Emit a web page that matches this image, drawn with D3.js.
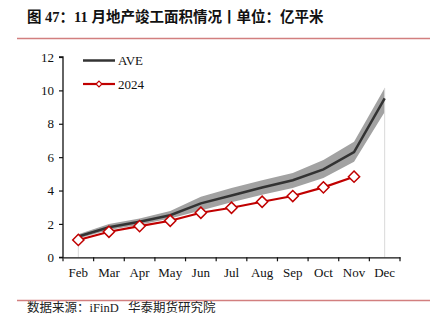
<!DOCTYPE html>
<html><head><meta charset="utf-8">
<script src="https://cdn.jsdelivr.net/npm/d3@7"></script>
<style>
body{margin:0;background:#fff;}
svg{display:block;}
</style></head>
<body>
<svg id="c" width="439" height="326"></svg>
<script>
const months = ["Feb","Mar","Apr","May","Jun","Jul","Aug","Sep","Oct","Nov","Dec"];
const aveValues = [1.25, 1.8, 2.13, 2.52, 3.23, 3.7, 4.18, 4.62, 5.27, 6.3, 9.52];
const bandLow  = [1.12, 1.63, 1.95, 2.33, 2.8, 3.3, 3.75, 4.15, 4.75, 5.72, 8.7];
const bandHigh = [1.38, 2.0, 2.33, 2.78, 3.63, 4.15, 4.62, 5.05, 5.83, 6.92, 10.15];
const y2024 = [1.04, 1.53, 1.87, 2.19, 2.67, 2.97, 3.33, 3.67, 4.19, 4.83];
const yTicks = [0, 2, 4, 6, 8, 10, 12];
const titleText = "图 47：11 月地产竣工面积情况丨单位：亿平米";
const sourceText = "数据来源：iFinD   华泰期货研究院";

const svg = d3.select("#c");
const serif = "'Liberation Serif','Times New Roman',serif";
const cjk = "'Noto Sans CJK SC','Noto Sans',sans-serif";

// Title
svg.append("text").attr("x", 27).attr("y", 22)
  .attr("font-family", "'Liberation Serif'," + cjk).attr("font-weight", "bold")
  .attr("font-size", 14.5).attr("fill", "#111").text(titleText);
svg.append("line").attr("x1", 17).attr("x2", 430).attr("y1", 38.5).attr("y2", 38.5)
  .attr("stroke", "#d27f7f").attr("stroke-width", 1.5);
svg.append("line").attr("x1", 17).attr("x2", 430).attr("y1", 300.5).attr("y2", 300.5)
  .attr("stroke", "#d27f7f").attr("stroke-width", 1.5);
svg.append("text").attr("x", 27).attr("y", 311.5)
  .attr("font-family", "'Liberation Serif'," + cjk)
  .attr("font-size", 12.5).attr("fill", "#222").attr("xml:space", "preserve")
  .style("white-space", "pre").text(sourceText);

const x = d3.scaleBand().domain(months).range([63, 400]).padding(0);
const y = d3.scaleLinear().domain([0, 12]).range([257.3, 57]);
const cx = m => x(m) + x.bandwidth() / 2;

// band
const bandData = months.map((m, i) => ({m, lo: bandLow[i], hi: bandHigh[i]}));
svg.append("path").datum(bandData)
  .attr("d", d3.area().x(d => cx(d.m)).y0(d => y(d.lo)).y1(d => y(d.hi)))
  .attr("fill", "#a2a2a2");
// faint edges at Feb and Dec
svg.append("line").attr("x1", cx("Feb")).attr("x2", cx("Feb"))
  .attr("y1", y(0)).attr("y2", y(bandLow[0])).attr("stroke", "#d9d9d9").attr("stroke-width", 1);
svg.append("line").attr("x1", cx("Dec")).attr("x2", cx("Dec"))
  .attr("y1", y(0)).attr("y2", y(bandHigh[10])).attr("stroke", "#d9d9d9").attr("stroke-width", 1);

// AVE line
svg.append("path").datum(months.map((m, i) => ({m, v: aveValues[i]})))
  .attr("d", d3.line().x(d => cx(d.m)).y(d => y(d.v)))
  .attr("fill", "none").attr("stroke", "#333").attr("stroke-width", 2.5);

// 2024 line
const d24 = y2024.map((v, i) => ({m: months[i], v}));
svg.append("path").datum(d24)
  .attr("d", d3.line().x(d => cx(d.m)).y(d => y(d.v)))
  .attr("fill", "none").attr("stroke", "#c00000").attr("stroke-width", 2.2);
const diamond = d3.symbol().type(d3.symbolDiamond2 || d3.symbolSquare).size(80);
svg.selectAll(".mk").data(d24).join("path")
  .attr("transform", d => `translate(${cx(d.m)},${y(d.v)}) rotate(${d3.symbolDiamond2 ? 0 : 45})`)
  .attr("d", diamond).attr("fill", "#fff").attr("stroke", "#c00000").attr("stroke-width", 1.5);

// axes
const yAxis = svg.append("g").attr("transform", "translate(63,0)")
  .call(d3.axisLeft(y).tickValues(yTicks).tickSize(4).tickPadding(5));
const xAxis = svg.append("g").attr("transform", `translate(0,${y(0)})`)
  .call(d3.axisBottom(x).tickSize(0).tickPadding(10));
[yAxis, xAxis].forEach(g => {
  g.selectAll("text").attr("font-family", serif).attr("font-size", 13).attr("fill", "#111");
  g.select(".domain").attr("stroke", "#111").attr("stroke-width", 1.3);
  g.selectAll(".tick line").attr("stroke", "#111").attr("stroke-width", 1.2);
});
yAxis.select(".domain").attr("d", `M-4,${y(12)}H0V${y(0)}H-4`);
// x boundary ticks
const bounds = months.map(m => x(m)).concat([x("Dec") + x.bandwidth()]);
xAxis.selectAll(".bt").data(bounds).join("line")
  .attr("x1", d => d).attr("x2", d => d).attr("y1", 0).attr("y2", 4)
  .attr("stroke", "#111").attr("stroke-width", 1.2);

// legend
const lg = svg.append("g");
lg.append("line").attr("x1", 83).attr("x2", 115).attr("y1", 60.5).attr("y2", 60.5)
  .attr("stroke", "#333").attr("stroke-width", 2.5);
lg.append("text").attr("x", 118).attr("y", 65).attr("font-family", serif)
  .attr("font-size", 13).attr("fill", "#111").text("AVE");
lg.append("line").attr("x1", 83).attr("x2", 115).attr("y1", 84).attr("y2", 84)
  .attr("stroke", "#c00000").attr("stroke-width", 2.2);
lg.append("path").attr("transform", `translate(99,84) rotate(${d3.symbolDiamond2 ? 0 : 45})`)
  .attr("d", d3.symbol().type(d3.symbolDiamond2 || d3.symbolSquare).size(22))
  .attr("fill", "#fff").attr("stroke", "#c00000").attr("stroke-width", 1.2);
lg.append("text").attr("x", 118).attr("y", 88.5).attr("font-family", serif)
  .attr("font-size", 13).attr("fill", "#111").text("2024");
</script>
</body></html>
